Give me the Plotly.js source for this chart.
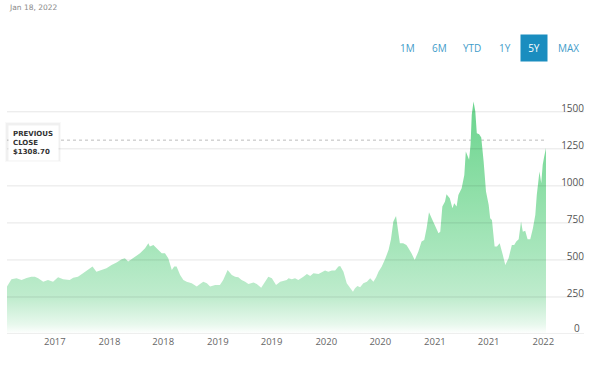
<!DOCTYPE html>
<html>
<head>
<meta charset="utf-8">
<script src="https://cdn.plot.ly/plotly-3.0.1.min.js"></script>
<style>
  html, body { margin: 0; padding: 0; background: #fff; }
  #chart { width: 601px; height: 365px; }
</style>
</head>
<body>
<div id="chart"></div>
<script>
const dates = [
  "2017-01-21","2017-02-05","2017-02-22","2017-03-11","2017-03-28","2017-04-13","2017-04-25","2017-05-06","2017-05-23","2017-06-08",
  "2017-06-25","2017-07-12","2017-07-29","2017-08-20","2017-09-01","2017-09-17","2017-10-04","2017-10-21","2017-11-05","2017-11-18",
  "2017-12-05","2017-12-22","2018-01-08","2018-01-25","2018-02-11","2018-02-22","2018-03-05","2018-03-22","2018-04-08","2018-04-14",
  "2018-05-01","2018-05-12","2018-05-17","2018-05-29","2018-06-14","2018-06-26","2018-07-07","2018-07-18","2018-07-30","2018-08-07",
  "2018-08-15","2018-08-27","2018-09-07","2018-09-18","2018-10-05","2018-10-22","2018-11-02","2018-11-13","2018-11-25","2018-12-06",
  "2018-12-23","2019-01-08","2019-01-19","2019-02-03","2019-02-17","2019-02-28","2019-03-11","2019-03-22","2019-04-03","2019-04-14",
  "2019-05-01","2019-05-12","2019-05-27","2019-06-09","2019-06-20","2019-07-02","2019-07-16","2019-07-30","2019-08-10","2019-08-21",
  "2019-08-27","2019-09-07","2019-09-18","2019-09-29","2019-10-16","2019-10-28","2019-11-08","2019-11-19","2019-12-06","2019-12-17",
  "2019-12-28","2020-01-08","2020-01-20","2020-01-31","2020-02-11","2020-02-17","2020-02-28","2020-03-10","2020-03-21","2020-03-31",
  "2020-04-07","2020-04-15","2020-04-24","2020-05-05","2020-05-17","2020-05-28","2020-06-08","2020-06-17","2020-06-25","2020-07-06",
  "2020-07-17","2020-07-29","2020-08-06","2020-08-14","2020-08-23","2020-08-29","2020-09-05","2020-09-16","2020-09-27","2020-10-03",
  "2020-10-09","2020-10-14","2020-10-25","2020-11-06","2020-11-17","2020-11-26","2020-12-04","2020-12-12","2020-12-21","2021-01-02",
  "2021-01-13","2021-01-19","2021-01-26","2021-02-04","2021-02-09","2021-02-20","2021-03-01","2021-03-07","2021-03-15","2021-03-21",
  "2021-04-01","2021-04-10","2021-04-15","2021-04-26","2021-05-01","2021-05-05","2021-05-11","2021-05-17","2021-05-22","2021-05-30",
  "2021-06-06","2021-06-14","2021-06-22","2021-07-01","2021-07-06","2021-07-12","2021-07-21","2021-07-29","2021-08-07","2021-08-17",
  "2021-08-26","2021-09-06","2021-09-17","2021-09-25","2021-10-02","2021-10-10","2021-10-18","2021-10-24","2021-11-01","2021-11-09",
  "2021-11-18","2021-11-27","2021-12-05","2021-12-10","2021-12-19","2021-12-25","2021-12-30","2022-01-04","2022-01-10"
];
const prices = [
  320,370,376,365,378,387,387,376,353,365,
  353,383,370,365,380,387,410,432,455,421,
  432,444,466,482,505,511,489,511,534,545,
  579,613,590,601,568,545,545,511,432,455,
  455,399,365,353,342,320,338,353,342,320,
  331,331,365,432,399,387,383,365,353,338,
  347,338,313,353,387,376,331,353,360,365,
  376,369,376,365,387,405,392,410,405,414,
  428,421,428,428,455,459,421,342,309,286,
  309,324,315,342,353,376,353,383,421,455,
  505,568,640,759,797,725,613,613,601,583,
  556,545,500,556,624,635,714,822,782,725,
  680,691,860,894,944,917,849,883,860,939,
  984,1074,1232,1176,1277,1480,1570,1502,1356,1349,
  1326,1164,962,872,782,770,590,590,613,539,
  466,511,601,601,624,640,759,691,697,640,
  640,714,804,939,1097,1018,1142,1198,1255
];
const prevClose = 1308.70;
const prevCloseLabel = "PREVIOUS<br>CLOSE<br>$1308.70";
const dateLabel = "Jan 18, 2022";
const rangeButtons = ["1M", "6M", "YTD", "1Y", "5Y", "MAX"];
const selectedButton = "5Y";
const xTickVals = ["2017-07-01","2018-01-01","2018-07-01","2019-01-01","2019-07-01","2020-01-01","2020-07-01","2021-01-01","2021-07-01","2022-01-01"];
const xTickText = ["2017","2018","2018","2019","2019","2020","2020","2021","2021","2022"];
const yTickVals = [0, 250, 500, 750, 1000, 1250, 1500];

// pixel -> paper helpers (plot area: x 7..584, y 97..334)
const L = 7, R = 17, T = 97, B = 31, W = 601, H = 365;
const pw = W - L - R, ph = H - T - B;
const px = x => (x - L) / pw;
const py = y => (H - B - y) / ph;

const btnX = [407, 439, 472, 505, 534, 568];
const annotations = [
  { text: dateLabel, xref: 'paper', yref: 'paper', x: px(7), y: py(8), xanchor: 'left', yanchor: 'middle',
    showarrow: false, font: { family: 'DejaVu Sans', size: 7.5, color: '#8a8a8a' } },
  // the "0" tick label (inside labels shifted above the bottom edge are dropped by Plotly)
  { text: String(yTickVals[0]), xref: 'paper', yref: 'y', x: 1, y: yTickVals[0], xanchor: 'right', yanchor: 'bottom',
    xshift: -2, yshift: -3, showarrow: false, font: { family: 'Open Sans', size: 10, color: '#555555' } }
];
rangeButtons.forEach((b, i) => {
  const sel = b === selectedButton;
  annotations.push({
    text: b, xref: 'paper', yref: 'paper', x: px(btnX[i]), y: py(47.5), xanchor: 'center', yanchor: 'middle',
    showarrow: false, font: { family: 'Open Sans', size: 10, color: sel ? '#ffffff' : '#3f9cc9' },
    bgcolor: sel ? '#1a8dbf' : 'rgba(0,0,0,0)', width: sel ? 22 : undefined, height: sel ? 22 : undefined,
    borderpad: 2
  });
});
annotations.push({
  text: prevCloseLabel, xref: 'paper', yref: 'paper', x: px(8), y: py(125), xanchor: 'left', yanchor: 'top',
  align: 'left', showarrow: false, bgcolor: '#ffffff', borderpad: 4, width: 41, height: 26,
  font: { family: 'DejaVu Sans', size: 7, color: '#333333', weight: 'bold' }
});

const shapes = [
  { type: 'line', xref: 'x', yref: 'y', x0: dates[0], x1: dates[dates.length - 1], y0: prevClose, y1: prevClose,
    line: { color: '#bdbdbd', width: 1, dash: 'dot' }, layer: 'below' },
  { type: 'rect', xref: 'paper', yref: 'paper', x0: px(5), x1: px(61), y0: py(122), y1: py(162),
    fillcolor: 'rgba(0,0,0,0.025)', line: { width: 0 } },
  { type: 'rect', xref: 'paper', yref: 'paper', x0: px(6), x1: px(60), y0: py(123), y1: py(161),
    fillcolor: 'rgba(0,0,0,0.035)', line: { width: 0 } }
];
// gridlines drawn over the area fill, as in the reference
yTickVals.forEach(v => {
  shapes.push({ type: 'line', xref: 'paper', yref: 'y', x0: 0, x1: 1, y0: v, y1: v,
    line: { color: v === 0 ? 'rgba(0,0,0,0.13)' : 'rgba(0,0,0,0.10)', width: 1 }, layer: 'above' });
});

const trace = {
  type: 'scatter', mode: 'lines', x: dates, y: prices,
  line: { width: 0, color: '#7dd99b', shape: 'linear' },
  fill: 'tozeroy',
  fillgradient: {
    type: 'vertical', start: 0, stop: 1600,
    colorscale: [[0, 'rgb(255,255,255)'], [0.04, 'rgb(232,248,237)'], [0.15, 'rgb(192,236,206)'],
                 [0.35, 'rgb(168,230,188)'], [0.6, 'rgb(143,223,168)'], [1, 'rgb(104,211,140)']]
  },
  hoverinfo: 'skip', showlegend: false
};

const layout = {
  width: W, height: H,
  margin: { l: L, r: R, t: T, b: B, pad: 0 },
  paper_bgcolor: '#ffffff', plot_bgcolor: '#ffffff',
  showlegend: false,
  font: { family: 'Open Sans', color: '#666' },
  xaxis: {
    type: 'date', range: ['2017-01-21', '2022-05-18'],
    tickmode: 'array', tickvals: xTickVals, ticktext: xTickText,
    showgrid: false, zeroline: false, showline: false, ticks: '',
    tickfont: { family: 'Open Sans', size: 9.5, color: '#666666' }, fixedrange: true
  },
  yaxis: {
    range: [0, 1600], side: 'right', ticklabelposition: 'inside',
    tickmode: 'array', tickvals: yTickVals, ticklabelshift: -3, ticklabelstandoff: -3,
    showgrid: false, zeroline: false, showline: false, ticks: '',
    tickfont: { family: 'Open Sans', size: 10, color: '#555555' }, fixedrange: true
  },
  annotations: annotations,
  shapes: shapes
};

Plotly.newPlot('chart', [trace], layout, { displayModeBar: false, staticPlot: true });
</script>
</body>
</html>
